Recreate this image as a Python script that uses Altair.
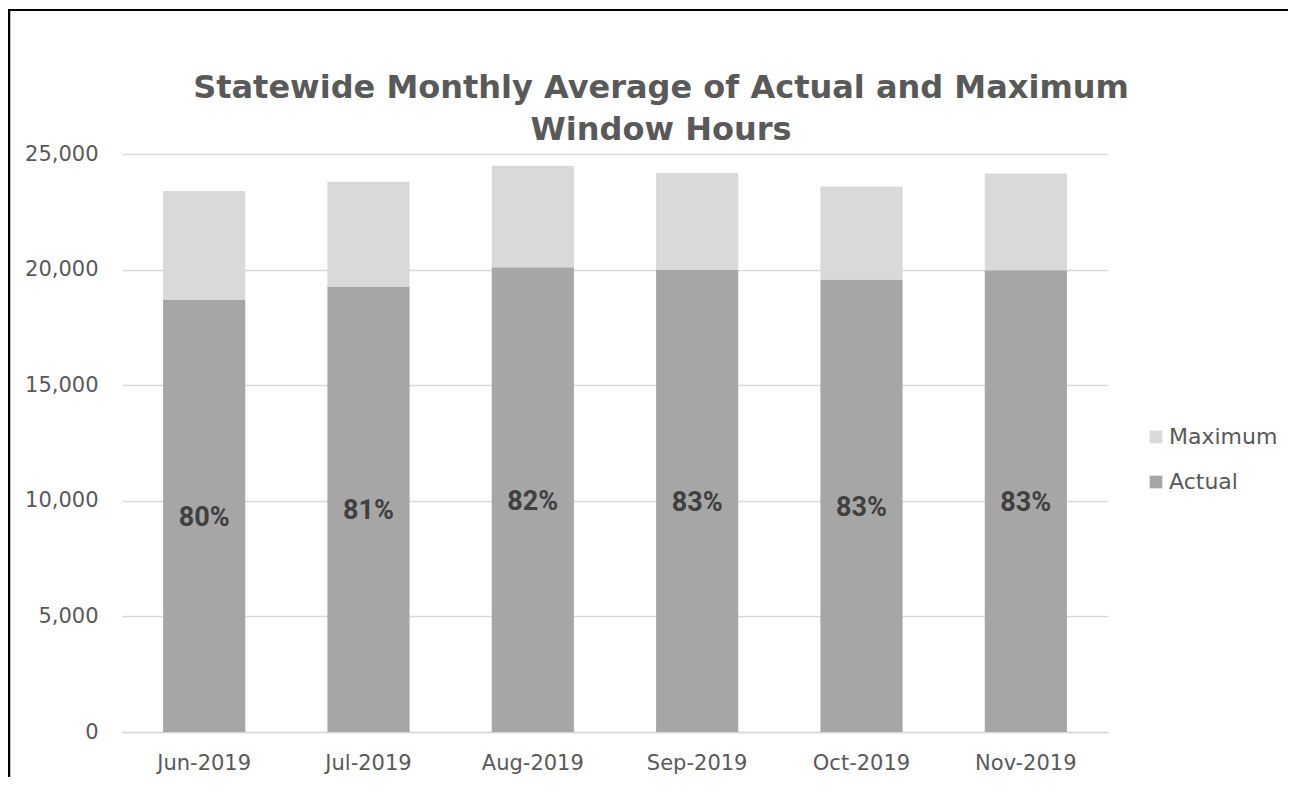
import altair as alt
import pandas as pd

months = ["Jun-2019", "Jul-2019", "Aug-2019", "Sep-2019", "Oct-2019", "Nov-2019"]
actual = [18680, 19270, 20100, 19990, 19570, 19970]
maximum = [23400, 23800, 24490, 24180, 23590, 24160]
pct_labels = ["80%", "81%", "82%", "83%", "83%", "83%"]
y_ticks = [0, 5000, 10000, 15000, 20000, 25000]
series_names = ["Maximum", "Actual"]
series_colors = ["#D9D9D9", "#A6A6A6"]
title_lines = ["Statewide Monthly Average of Actual and Maximum", "Window Hours"]

rows = []
for m, a, mx in zip(months, actual, maximum):
    rows.append({"month": m, "series": "Actual", "lo": 0, "hi": a})
    rows.append({"month": m, "series": "Maximum", "lo": a, "hi": mx})
bars_df = pd.DataFrame(rows)
labels_df = pd.DataFrame({"month": months, "mid": [a / 2 for a in actual], "label": pct_labels})

W, H = 986, 578

x_enc = alt.X("month:N", sort=months,
              scale=alt.Scale(paddingInner=0.5, paddingOuter=0.25),
              axis=alt.Axis(title=None, labelAngle=0, ticks=False, domain=True,
                            grid=False,
                            domainColor="#D9D9D9", domainWidth=1.3,
                            labelPadding=20, labelFontSize=21,
                            labelColor="#595959", labelFont="DejaVu Sans"))

bars = alt.Chart(bars_df).mark_bar().encode(
    x=x_enc,
    y=alt.Y("hi:Q", scale=alt.Scale(domain=[0, 25000], nice=False),
            axis=alt.Axis(title=None, values=y_ticks, format=",.0f", ticks=False,
                          domain=False, grid=True, gridColor="#D9D9D9",
                          gridWidth=1.3, labelPadding=24, labelFontSize=21,
                          labelColor="#595959", labelFont="DejaVu Sans")),
    y2="lo:Q",
    color=alt.Color("series:N",
                    scale=alt.Scale(domain=series_names, range=series_colors),
                    legend=alt.Legend(title=None, orient="none", legendX=1023,
                                      legendY=272, symbolType="square",
                                      symbolSize=160, symbolStrokeWidth=0,
                                      labelFontSize=22, labelColor="#595959",
                                      labelFont="DejaVu Sans", labelOffset=2,
                                      rowPadding=23)),
)

text = alt.Chart(labels_df).mark_text(
    font="Roboto", fontSize=27, fontWeight="bold", color="#404040",
    baseline="middle", dy=2
).encode(
    x=alt.X("month:N", sort=months),
    y=alt.Y("mid:Q"),
    text="label:N",
)

frame_df = pd.DataFrame({"k": [0]})
title_mark = alt.Chart(frame_df).mark_text(
    text=title_lines, font="DejaVu Sans", fontSize=32, fontWeight="bold",
    color="#595959", align="center", baseline="middle", lineHeight=42
).encode(x=alt.value(539), y=alt.value(-66))

frame_left = alt.Chart(frame_df).mark_rule(color="black", strokeWidth=2.5).encode(
    x=alt.value(-113), y=alt.value(-144), y2=alt.value(H + 60))
frame_top = alt.Chart(frame_df).mark_rule(color="black", strokeWidth=2).encode(
    x=alt.value(-114), x2=alt.value(W + 200), y=alt.value(-144))

chart = alt.layer(bars, text, title_mark, frame_left, frame_top).properties(
    width=W, height=H,
    autosize=alt.AutoSizeParams(type="none"),
    padding={"left": 114, "top": 146, "right": 180, "bottom": 45},
    view=alt.ViewBackground(stroke="transparent", strokeWidth=0, strokeOpacity=0),
).configure_view(stroke="transparent", strokeWidth=0).configure(background="white")

chart.save("out.html", embed_options={"renderer": "svg", "actions": False})
